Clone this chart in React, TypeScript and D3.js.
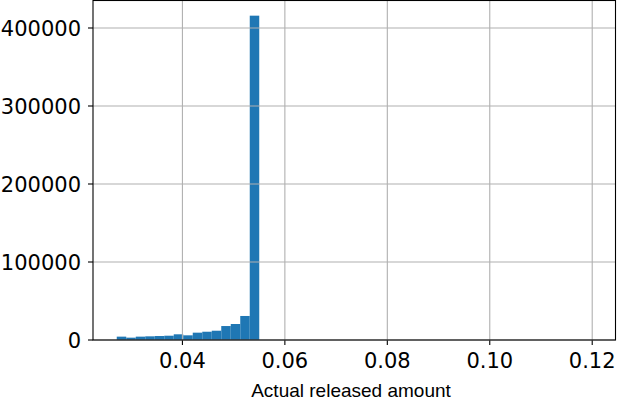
import React from "react";
import * as d3 from "d3";

// Histogram of "Actual released amount": 50 equal bins between min and max
const dataMin = 0.02718;
const dataMax = 0.11991;
const binCounts = [
  4300, 3000, 4300, 4700, 5100, 5500, 7300, 6000, 9400, 10600,
  11900, 17900, 20500, 30800, 415800, 0, 0, 0, 0, 0,
  0, 0, 0, 0, 0, 0, 0, 0, 0, 0,
  0, 0, 0, 0, 0, 0, 0, 0, 0, 0,
  0, 0, 0, 0, 0, 0, 0, 0, 0, 3,
];
const xTicks = [0.04, 0.06, 0.08, 0.1, 0.12];
const xTickLabels = ["0.04", "0.06", "0.08", "0.10", "0.12"];
const yTicks = [0, 100000, 200000, 300000, 400000];
const yTickLabels = ["0", "100000", "200000", "300000", "400000"];
const xLabel = "Actual released amount";

const W = 617;
const H = 401;
const left = 93;
const right = 615.5;
const top = 0.5;
const bottom = 340;

export default function App() {
  const span = dataMax - dataMin;
  const x = d3
    .scaleLinear()
    .domain([dataMin - 0.05 * span, dataMax + 0.05 * span])
    .range([left, right]);
  const y = d3.scaleLinear().domain([0, 435250]).range([bottom, top]);
  const binW = span / binCounts.length;
  const bars = binCounts.map((c, i) => ({
    x0: dataMin + i * binW,
    x1: dataMin + (i + 1) * binW,
    c,
  }));
  const tickFont = "DejaVu Sans, sans-serif";
  return (
    <svg
      width={W}
      height={H}
      style={{ position: "absolute", left: 0, top: 0, display: "block", background: "#fff" }}
    >
      {bars.map((b, i) =>
        b.c > 0 ? (
          <rect
            key={i}
            x={x(b.x0)}
            y={y(b.c)}
            width={x(b.x1) - x(b.x0)}
            height={y(0) - y(b.c)}
            fill="#1f77b4"
          />
        ) : null
      )}
      {xTicks.map((t, i) => (
        <g key={"x" + i}>
          <line x1={x(t)} x2={x(t)} y1={top} y2={bottom} stroke="#b0b0b0" strokeWidth={1.1} />
          <line x1={x(t)} x2={x(t)} y1={bottom} y2={bottom + 5} stroke="#000" strokeWidth={1.1} />
          <text
            x={x(t)}
            y={368}
            textAnchor="middle"
            fontFamily={tickFont}
            fontSize={21}
            fill="#000"
          >
            {xTickLabels[i]}
          </text>
        </g>
      ))}
      {yTicks.map((t, i) => (
        <g key={"y" + i}>
          <line x1={left} x2={right} y1={y(t)} y2={y(t)} stroke="#b0b0b0" strokeWidth={1.1} />
          <line x1={left - 5} x2={left} y1={y(t)} y2={y(t)} stroke="#000" strokeWidth={1.1} />
          <text
            x={81}
            y={y(t) + 7.7}
            textAnchor="end"
            fontFamily={tickFont}
            fontSize={21}
            fill="#000"
          >
            {yTickLabels[i]}
          </text>
        </g>
      ))}
      <rect
        x={left}
        y={top}
        width={right - left}
        height={bottom - top}
        fill="none"
        stroke="#000"
        strokeWidth={1.1}
      />
      <text
        x={351}
        y={397}
        textAnchor="middle"
        fontFamily="Liberation Sans, Arial, Helvetica, sans-serif"
        fontSize={19}
        fill="#000"
      >
        {xLabel}
      </text>
    </svg>
  );
}
